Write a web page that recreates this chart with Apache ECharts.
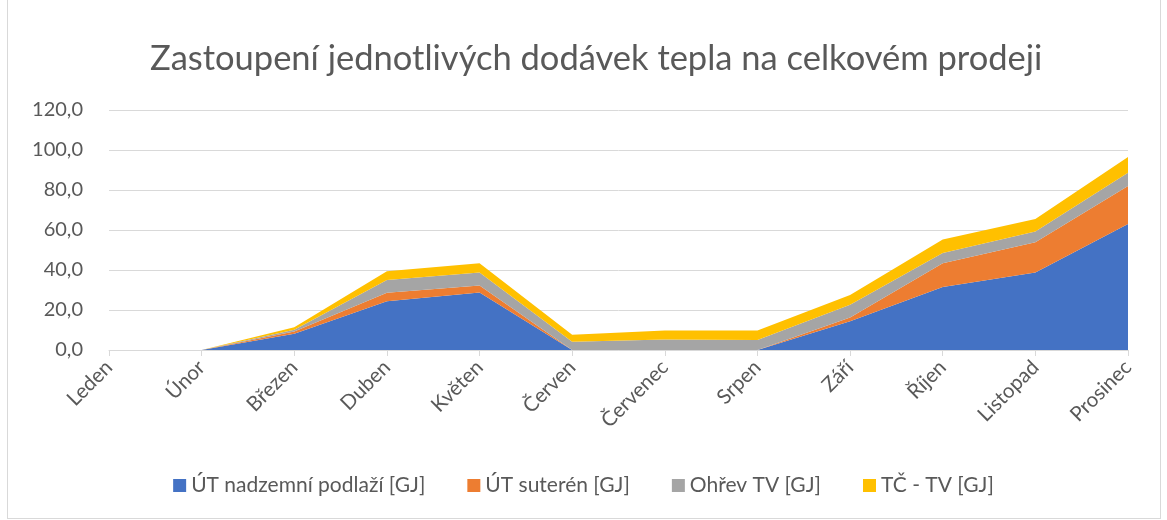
<!DOCTYPE html>
<html>
<head>
<meta charset="utf-8">
<script src="https://cdn.jsdelivr.net/npm/echarts@6/dist/echarts.min.js"></script>
<style>
  html, body { margin: 0; padding: 0; background: #fff; }
  #frame { position: absolute; left: 7px; top: 0; width: 1152px; height: 518px; border: 1px solid #d9d9d9; border-top: none; }
  #chart { width: 1167px; height: 520px; }
</style>
</head>
<body>
<div id="frame"></div>
<div id="chart"></div>
<script>
// měsíce
const months = ['Leden', 'Únor', 'Březen', 'Duben', 'Květen', 'Červen',
  'Červenec', 'Srpen', 'Září', 'Říjen', 'Listopad', 'Prosinec']

// hodnoty jednotlivých dodávek [GJ]
const utNadzemni = [0, 0, 8.1, 24.4, 28.8, 0, 0, 0, 14.4, 31.5, 38.7, 63.0]
const utSuteren = [0, 0, 1.2, 4.2, 3.5, 0, 0, 0, 1.8, 11.9, 15.2, 19.0]
const ohrevTV = [0, 0, 0.8, 6.4, 6.4, 4.1, 5.3, 5.0, 6.4, 5.1, 5.4, 6.6]
const tcTV = [0, 0, 1.3, 4.4, 4.7, 3.5, 4.4, 4.7, 4.9, 6.7, 6.2, 7.9]

const seriesNames = ['ÚT nadzemní podlaží [GJ]', 'ÚT suterén [GJ]', 'Ohřev TV [GJ]', 'TČ - TV [GJ]']
const seriesData = [utNadzemni, utSuteren, ohrevTV, tcTV]
const colors = ['#4472C4', '#ED7D31', '#A5A5A5', '#FFC000']

const font = 'Lato, "Open Sans", sans-serif'

const chart = echarts.init(document.getElementById('chart'), null, { renderer: 'canvas' })

chart.setOption({
  animation: false,
  color: colors,
  textStyle: { fontFamily: font },
  title: {
    text: 'Zastoupení jednotlivých dodávek tepla na celkovém prodeji',
    left: 145,
    top: 36,
    textStyle: { fontSize: 34.5, fontWeight: 'normal', color: '#595959', fontFamily: font },
  },
  grid: {
    left: 109,
    right: 39,
    top: 110,
    bottom: 170,
  },
  legend: {
    bottom: 19,
    left: 'center',
    itemWidth: 13,
    itemHeight: 13,
    itemGap: 42,
    icon: 'rect',
    textStyle: { fontSize: 21, color: '#595959', fontFamily: font },
    data: seriesNames,
  },
  xAxis: {
    type: 'category',
    data: months,
    boundaryGap: false,
    axisLine: { lineStyle: { color: '#d9d9d9', width: 1 } },
    axisTick: { show: true, length: 6, lineStyle: { color: '#d9d9d9' } },
    axisLabel: {
      interval: 0,
      rotate: 45,
      margin: 14,
      fontSize: 20.5,
      color: '#595959',
      fontFamily: font,
    },
  },
  yAxis: {
    type: 'value',
    min: 0,
    max: 120,
    interval: 20,
    axisLine: { show: false },
    axisTick: { show: false },
    splitLine: { lineStyle: { color: '#d9d9d9', width: 1 } },
    axisLabel: {
      fontSize: 20,
      color: '#595959',
      margin: 26,
      fontFamily: font,
      formatter: v => v.toFixed(1).replace('.', ','),
    },
  },
  series: seriesNames.map((name, i) => ({
    name: name,
    type: 'line',
    stack: 'total',
    data: seriesData[i],
    symbol: 'none',
    lineStyle: { width: 0 },
    areaStyle: { color: colors[i], opacity: 1 },
  })),
})
</script>
</body>
</html>
